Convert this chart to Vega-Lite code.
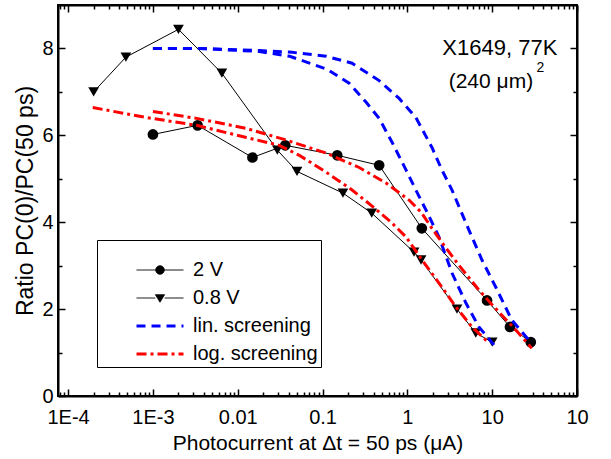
{
  "$schema": "https://vega.github.io/schema/vega-lite/v6.json",
  "width": 519,
  "height": 391,
  "autosize": {"type": "none"},
  "padding": {"left": 58, "top": 5, "right": 34, "bottom": 63},
  "background": "white",
  "config": {
    "view": {"stroke": "black", "strokeWidth": 2},
    "axis": {
      "domainColor": "black", "domainWidth": 2, "tickColor": "black", "tickWidth": 1.5,
      "labelFont": "Liberation Sans", "labelFontSize": 20, "labelColor": "black",
      "titleFont": "Liberation Sans", "titleFontSize": 21, "titleFontWeight": "normal", "titleColor": "black",
      "grid": false, "labelOverlap": false, "labelFlush": false
    },
    "text": {"font": "Liberation Sans"}
  },
  "datasets": {
    "pts": [
      {"series": "2 V", "x": 0.001, "y": 6.02},
      {"series": "2 V", "x": 0.00336, "y": 6.23},
      {"series": "2 V", "x": 0.0149, "y": 5.49},
      {"series": "2 V", "x": 0.0363, "y": 5.77},
      {"series": "2 V", "x": 0.149, "y": 5.54},
      {"series": "2 V", "x": 0.465, "y": 5.31},
      {"series": "2 V", "x": 1.48, "y": 3.86},
      {"series": "2 V", "x": 8.7, "y": 2.2},
      {"series": "2 V", "x": 16.2, "y": 1.59},
      {"series": "2 V", "x": 28.5, "y": 1.24},
      {"series": "0.8 V", "x": 0.0002, "y": 7.0},
      {"series": "0.8 V", "x": 0.00048, "y": 7.8},
      {"series": "0.8 V", "x": 0.002, "y": 8.44},
      {"series": "0.8 V", "x": 0.0065, "y": 7.43},
      {"series": "0.8 V", "x": 0.0293, "y": 5.66},
      {"series": "0.8 V", "x": 0.05, "y": 5.17},
      {"series": "0.8 V", "x": 0.174, "y": 4.67},
      {"series": "0.8 V", "x": 0.38, "y": 4.21},
      {"series": "0.8 V", "x": 1.2, "y": 3.31},
      {"series": "0.8 V", "x": 1.45, "y": 3.13},
      {"series": "0.8 V", "x": 3.85, "y": 2.0},
      {"series": "0.8 V", "x": 6.4, "y": 1.45},
      {"series": "0.8 V", "x": 10, "y": 1.24}
    ],
    "curves": [
      {"series": "lin. screening", "curve": "linA", "x": 0.001, "y": 8.0},
      {"series": "lin. screening", "curve": "linA", "x": 0.00355, "y": 8.0},
      {"series": "lin. screening", "curve": "linA", "x": 0.018, "y": 7.95},
      {"series": "lin. screening", "curve": "linA", "x": 0.044, "y": 7.91},
      {"series": "lin. screening", "curve": "linA", "x": 0.11, "y": 7.82},
      {"series": "lin. screening", "curve": "linA", "x": 0.223, "y": 7.66},
      {"series": "lin. screening", "curve": "linA", "x": 0.465, "y": 7.26},
      {"series": "lin. screening", "curve": "linA", "x": 0.8, "y": 6.85},
      {"series": "lin. screening", "curve": "linA", "x": 1.26, "y": 6.41},
      {"series": "lin. screening", "curve": "linA", "x": 1.95, "y": 5.72},
      {"series": "lin. screening", "curve": "linA", "x": 2.56, "y": 5.2},
      {"series": "lin. screening", "curve": "linA", "x": 3.36, "y": 4.74},
      {"series": "lin. screening", "curve": "linA", "x": 5.32, "y": 3.82},
      {"series": "lin. screening", "curve": "linA", "x": 7.58, "y": 3.13},
      {"series": "lin. screening", "curve": "linA", "x": 11.0, "y": 2.51},
      {"series": "lin. screening", "curve": "linA", "x": 17.0, "y": 1.75},
      {"series": "lin. screening", "curve": "linA", "x": 27.0, "y": 1.29},
      {"series": "lin. screening", "curve": "linB", "x": 0.001, "y": 8.0},
      {"series": "lin. screening", "curve": "linB", "x": 0.00355, "y": 8.0},
      {"series": "lin. screening", "curve": "linB", "x": 0.018, "y": 7.93},
      {"series": "lin. screening", "curve": "linB", "x": 0.041, "y": 7.82},
      {"series": "lin. screening", "curve": "linB", "x": 0.066, "y": 7.68},
      {"series": "lin. screening", "curve": "linB", "x": 0.113, "y": 7.52},
      {"series": "lin. screening", "curve": "linB", "x": 0.206, "y": 7.2},
      {"series": "lin. screening", "curve": "linB", "x": 0.327, "y": 6.76},
      {"series": "lin. screening", "curve": "linB", "x": 0.465, "y": 6.39},
      {"series": "lin. screening", "curve": "linB", "x": 0.66, "y": 5.84},
      {"series": "lin. screening", "curve": "linB", "x": 0.966, "y": 5.2},
      {"series": "lin. screening", "curve": "linB", "x": 1.26, "y": 4.74},
      {"series": "lin. screening", "curve": "linB", "x": 1.66, "y": 4.28},
      {"series": "lin. screening", "curve": "linB", "x": 2.36, "y": 3.66},
      {"series": "lin. screening", "curve": "linB", "x": 3.36, "y": 2.83},
      {"series": "lin. screening", "curve": "linB", "x": 4.9, "y": 2.14},
      {"series": "lin. screening", "curve": "linB", "x": 6.98, "y": 1.59},
      {"series": "lin. screening", "curve": "linB", "x": 11.0, "y": 1.13},
      {"series": "log. screening", "curve": "logA", "x": 0.001, "y": 6.55},
      {"series": "log. screening", "curve": "logA", "x": 0.00327, "y": 6.39},
      {"series": "log. screening", "curve": "logA", "x": 0.01265, "y": 6.16},
      {"series": "log. screening", "curve": "logA", "x": 0.0374, "y": 5.89},
      {"series": "log. screening", "curve": "logA", "x": 0.1107, "y": 5.59},
      {"series": "log. screening", "curve": "logA", "x": 0.27, "y": 5.26},
      {"series": "log. screening", "curve": "logA", "x": 0.562, "y": 4.9},
      {"series": "log. screening", "curve": "logA", "x": 1.047, "y": 4.51},
      {"series": "log. screening", "curve": "logA", "x": 1.45, "y": 4.23},
      {"series": "log. screening", "curve": "logA", "x": 1.95, "y": 3.86},
      {"series": "log. screening", "curve": "logA", "x": 2.7, "y": 3.47},
      {"series": "log. screening", "curve": "logA", "x": 4.05, "y": 3.01},
      {"series": "log. screening", "curve": "logA", "x": 6.97, "y": 2.44},
      {"series": "log. screening", "curve": "logA", "x": 12.0, "y": 1.93},
      {"series": "log. screening", "curve": "logA", "x": 19.0, "y": 1.52},
      {"series": "log. screening", "curve": "logA", "x": 29.3, "y": 1.1},
      {"series": "log. screening", "curve": "logB", "x": 0.000195, "y": 6.64},
      {"series": "log. screening", "curve": "logB", "x": 0.000843, "y": 6.41},
      {"series": "log. screening", "curve": "logB", "x": 0.00327, "y": 6.23},
      {"series": "log. screening", "curve": "logB", "x": 0.01265, "y": 5.95},
      {"series": "log. screening", "curve": "logB", "x": 0.0309, "y": 5.77},
      {"series": "log. screening", "curve": "logB", "x": 0.0532, "y": 5.54},
      {"series": "log. screening", "curve": "logB", "x": 0.1107, "y": 5.15},
      {"series": "log. screening", "curve": "logB", "x": 0.223, "y": 4.74},
      {"series": "log. screening", "curve": "logB", "x": 0.384, "y": 4.37},
      {"series": "log. screening", "curve": "logB", "x": 0.643, "y": 4.0},
      {"series": "log. screening", "curve": "logB", "x": 0.966, "y": 3.66},
      {"series": "log. screening", "curve": "logB", "x": 1.49, "y": 3.13},
      {"series": "log. screening", "curve": "logB", "x": 2.36, "y": 2.6},
      {"series": "log. screening", "curve": "logB", "x": 3.74, "y": 2.05},
      {"series": "log. screening", "curve": "logB", "x": 5.77, "y": 1.59},
      {"series": "log. screening", "curve": "logB", "x": 9.14, "y": 1.22}
    ],
    "notes": [
      {"label": "X1649, 77K", "x": 12.3, "y": 8.02}
    ],
    "notes2": [
      {"label": "(240 μm)", "x": 9.66, "y": 7.22}
    ],
    "notes3": [
      {"label": "2", "x": 37, "y": 7.55}
    ]
  },
  "resolve": {"axis": {"x": "independent", "y": "independent"}},
  "layer": [
    {
      "data": {"name": "pts"},
      "mark": {"type": "line", "strokeWidth": 1},
      "encoding": {
        "x": {"field": "x", "type": "quantitative",
          "scale": {"type": "log", "domain": [0.000076, 100], "nice": false},
          "axis": {"orient": "bottom", "values": [0.0001, 0.001, 0.01, 0.1, 1, 10, 100], "tickSize": -7, "labelPadding": 18,
            "labelExpr": "datum.value < 0.0005 ? '1E-4' : datum.value < 0.005 ? '1E-3' : datum.value < 0.05 ? '0.01' : datum.value < 0.5 ? '0.1' : datum.value < 5 ? '1' : '10'",
            "title": "Photocurrent at Δt = 50 ps (μA)", "titlePadding": 5}},
        "y": {"field": "y", "type": "quantitative",
          "scale": {"domain": [0, 9], "nice": false, "zero": false},
          "axis": {"orient": "left", "values": [0, 2, 4, 6, 8], "tickSize": -7, "labelPadding": 12,
            "title": "Ratio PC(0)/PC(50 ps)", "titleFontSize": 23, "titlePadding": 4}},
        "detail": {"field": "series"},
        "color": {"value": "black"}
      }
    },
    {
      "data": {"name": "pts"},
      "mark": {"type": "point", "filled": true, "opacity": 1, "color": "black"},
      "encoding": {
        "x": {"field": "x", "type": "quantitative",
          "axis": {"orient": "bottom", "values": [0.00008, 0.00009, 0.0002, 0.0003, 0.0004, 0.0005, 0.0006, 0.0007, 0.0008, 0.0009, 0.002, 0.003, 0.004, 0.005, 0.006, 0.007, 0.008, 0.009, 0.02, 0.03, 0.04, 0.05, 0.06, 0.07, 0.08, 0.09, 0.2, 0.3, 0.4, 0.5, 0.6, 0.7, 0.8, 0.9, 2, 3, 4, 5, 6, 7, 8, 9, 20, 30, 40, 50, 60, 70, 80, 90],
            "tickSize": -4, "labels": false, "domain": false, "title": null}},
        "y": {"field": "y", "type": "quantitative",
          "axis": {"orient": "left", "values": [1, 3, 5, 7], "tickSize": -4, "labels": false, "domain": false, "title": null}},
        "shape": {"field": "series", "type": "nominal", "scale": {"domain": ["2 V", "0.8 V"], "range": ["circle", "triangle-down"]}, "legend": null},
        "size": {"value": 115}
      }
    },
    {
      "data": {"name": "curves"},
      "mark": {"type": "line", "strokeWidth": 3},
      "encoding": {
        "x": {"field": "x", "type": "quantitative",
          "axis": {"orient": "top", "values": [0.0001, 0.001, 0.01, 0.1, 1, 10, 100], "tickSize": -7, "labels": false, "title": null}},
        "y": {"field": "y", "type": "quantitative",
          "axis": {"orient": "right", "values": [0, 2, 4, 6, 8], "tickSize": -7, "labels": false, "title": null}},
        "detail": {"field": "curve"},
        "color": {"field": "series", "type": "nominal",
          "scale": {"domain": ["2 V", "0.8 V", "lin. screening", "log. screening"], "range": ["black", "black", "#0000ff", "#ff0000"]},
          "legend": {
            "orient": "none", "legendX": 39, "legendY": 235, "title": " ", "titleFontSize": 12, "titlePadding": 5,
            "strokeColor": "black", "fillColor": "white", "padding": 3,
            "labelFont": "Liberation Sans", "labelFontSize": 20, "labelColor": "black",
            "symbolSize": 353, "symbolOffset": 50, "labelOffset": 23, "rowPadding": 8,
            "encode": {"symbols": {"update": {
              "shape": {"signal": "datum.value === '2 V' ? 'M-2.5,0H-0.45M0.45,0H2.5M-0.45,0A0.45,0.45 0 1,1 0.45,0A0.45,0.45 0 1,1 -0.45,0Z' : datum.value === '0.8 V' ? 'M-2.5,0H-0.5M0.5,0H2.5M-0.48,-0.35L0.48,-0.35L0,0.45Z' : 'M-2.5,0H2.5'"},
              "fill": {"signal": "(datum.value === '2 V' || datum.value === '0.8 V') ? 'black' : 'transparent'"},
              "strokeWidth": {"signal": "(datum.value === '2 V' || datum.value === '0.8 V') ? 1 : 3"},
              "opacity": {"value": 1}
            }}}
          }},
        "strokeDash": {"field": "series", "type": "nominal",
          "scale": {"domain": ["2 V", "0.8 V", "lin. screening", "log. screening"], "range": [[1, 0], [1, 0], [9, 6], [10, 4, 3, 4]]}}
      }
    },
    {
      "data": {"name": "notes"},
      "mark": {"type": "text", "fontSize": 22, "color": "black", "align": "center", "baseline": "middle"},
      "encoding": {
        "x": {"field": "x", "type": "quantitative",
          "axis": {"orient": "top", "values": [0.00008, 0.00009, 0.0002, 0.0003, 0.0004, 0.0005, 0.0006, 0.0007, 0.0008, 0.0009, 0.002, 0.003, 0.004, 0.005, 0.006, 0.007, 0.008, 0.009, 0.02, 0.03, 0.04, 0.05, 0.06, 0.07, 0.08, 0.09, 0.2, 0.3, 0.4, 0.5, 0.6, 0.7, 0.8, 0.9, 2, 3, 4, 5, 6, 7, 8, 9, 20, 30, 40, 50, 60, 70, 80, 90],
            "tickSize": -4, "labels": false, "domain": false, "title": null}},
        "y": {"field": "y", "type": "quantitative",
          "axis": {"orient": "right", "values": [1, 3, 5, 7], "tickSize": -4, "labels": false, "domain": false, "title": null}},
        "text": {"field": "label"}
      }
    },
    {
      "data": {"name": "notes2"},
      "mark": {"type": "text", "fontSize": 21, "color": "black", "align": "center", "baseline": "middle"},
      "encoding": {
        "x": {"field": "x", "type": "quantitative", "axis": null},
        "y": {"field": "y", "type": "quantitative", "axis": null},
        "text": {"field": "label"}
      }
    },
    {
      "data": {"name": "notes3"},
      "mark": {"type": "text", "fontSize": 14, "color": "black", "align": "center", "baseline": "middle"},
      "encoding": {
        "x": {"field": "x", "type": "quantitative", "axis": null},
        "y": {"field": "y", "type": "quantitative", "axis": null},
        "text": {"field": "label"}
      }
    }
  ]
}
